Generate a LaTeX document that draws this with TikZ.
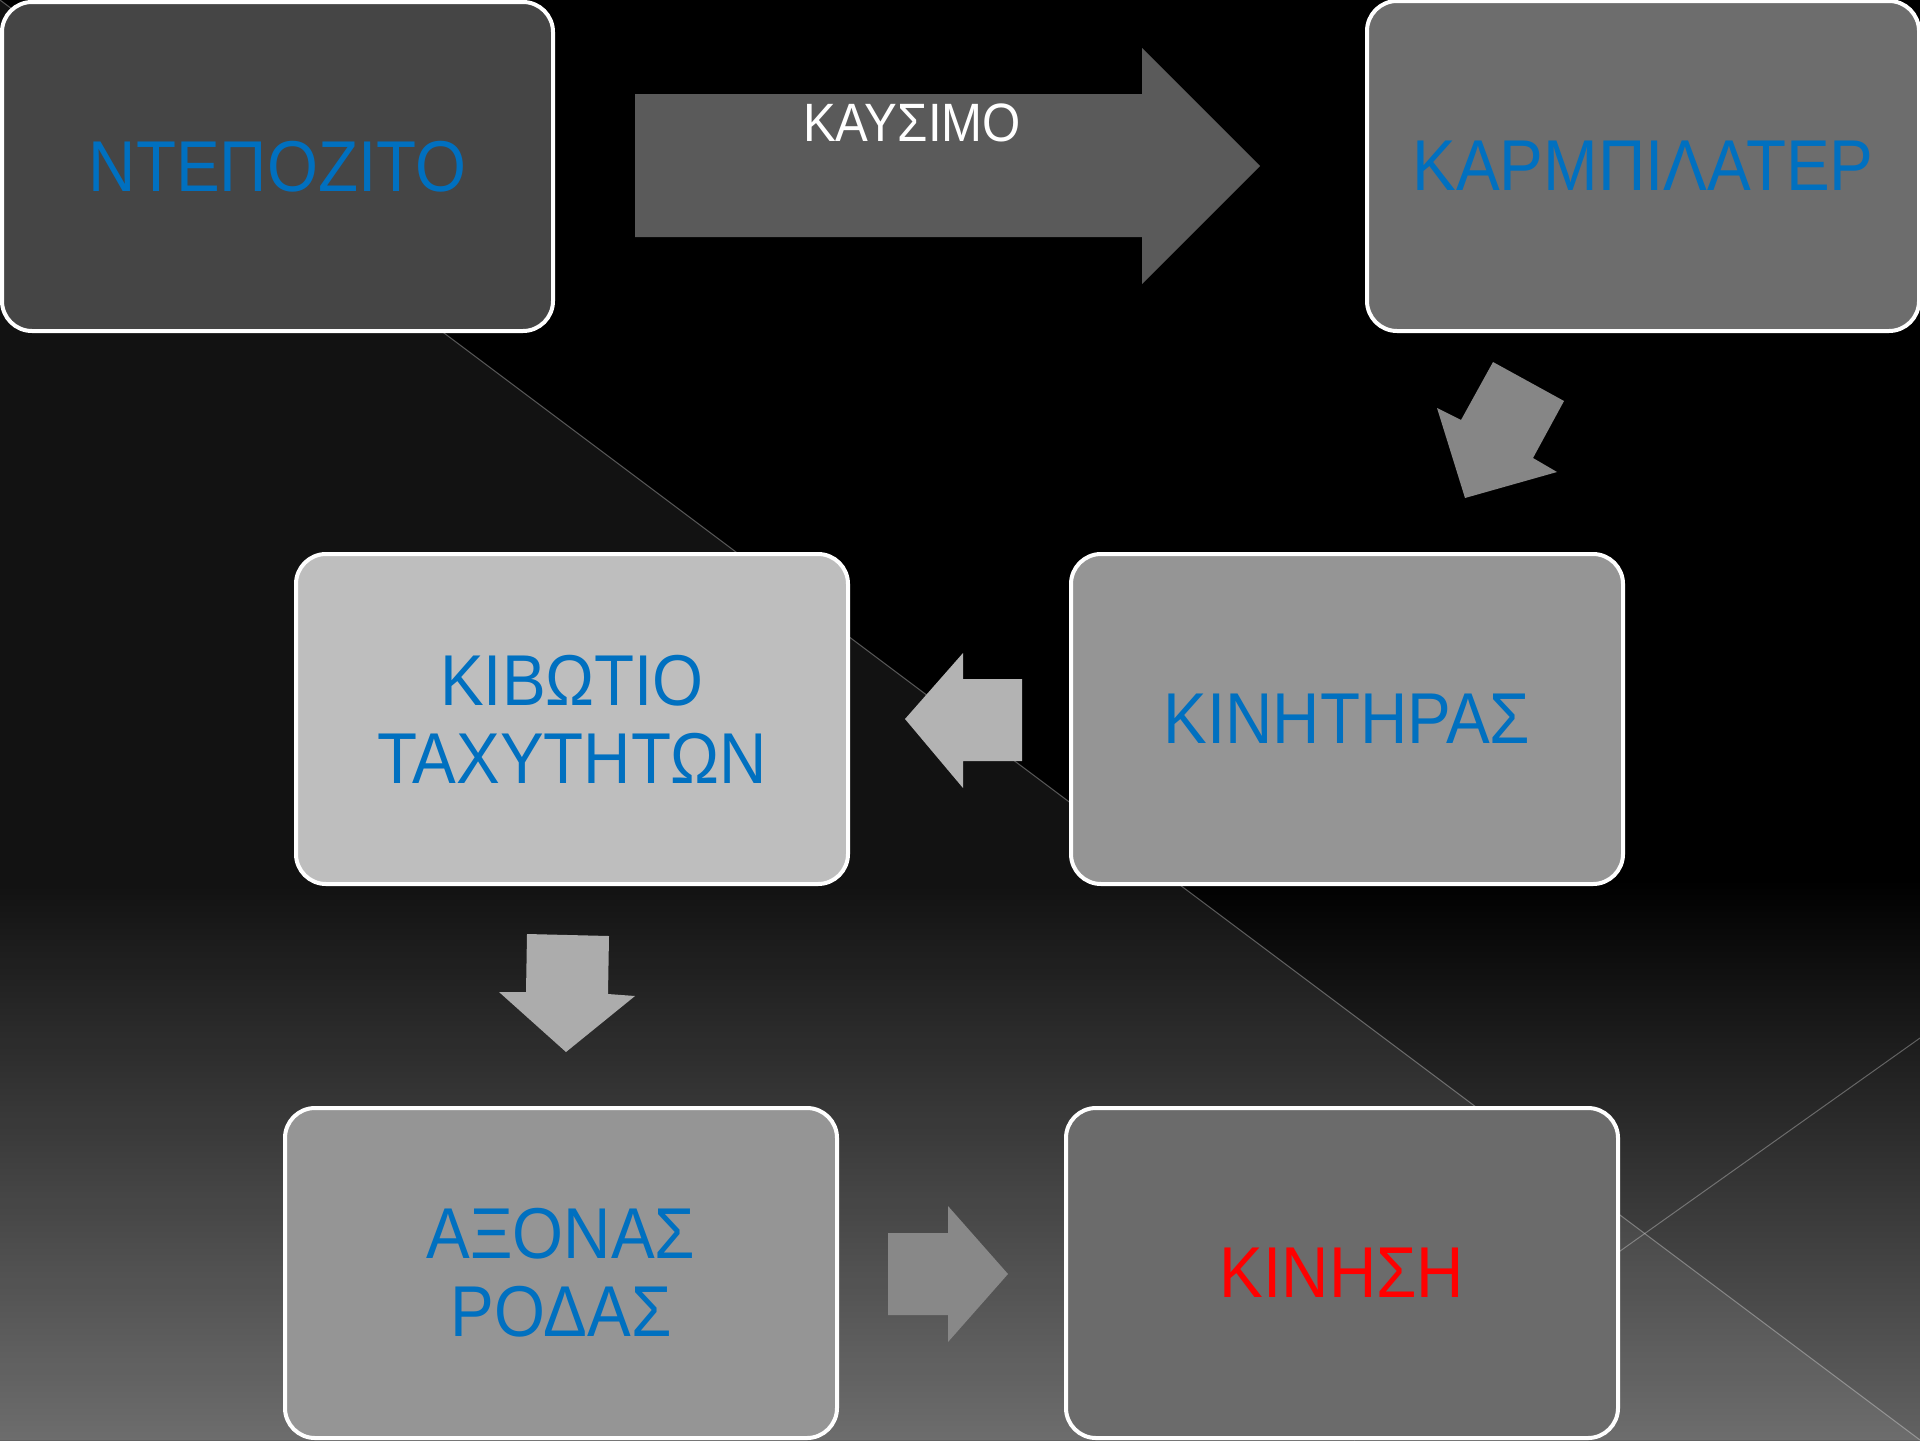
\documentclass[tikz,border=0pt]{standalone}
\usepackage{fontspec}
\newfontfamily\boxfont[FakeStretch=0.91]{Liberation Sans}
\usetikzlibrary{positioning}
\usepackage{xcolor}

\definecolor{boxblue}{HTML}{0070C0}
\definecolor{boxred}{HTML}{FF0000}
\definecolor{bgbottom}{HTML}{626262}
\definecolor{fillA}{HTML}{454545}
\definecolor{fillB}{HTML}{6D6D6D}
\definecolor{fillC}{HTML}{959595}
\definecolor{fillD}{HTML}{BEBEBE}
\definecolor{fillE}{HTML}{6B6B6B}

\tikzset{
	blockbox/.style={draw=white, line width=2pt, rounded corners=15pt, minimum width=276pt, minimum height=165pt, inner sep=0pt, align=center, text=boxblue, font=\boxfont\fontsize{36}{39}\selectfont},
	bgline/.style={white, opacity=0.3, line width=0.5pt}
}

\begin{document}
\begin{tikzpicture}[x=0.5pt,y=0.5pt,yscale=-1,xscale=1]
	\useasboundingbox (0,0) rectangle (1920,1440);
	
	%Background
	\fill[black] (0,0) rectangle (1920,1440);
	\shade[top color=black, bottom color=bgbottom] (0,880) rectangle (1920,1440);
	\fill[white, opacity=0.07] (0,0) -- (1920,1440) -- (0,1440) -- cycle;
	\draw[bgline] (0,0) -- (1920,1440);
	\draw[bgline] (1354,1440) -- (1920,1038);
	
	%Shape: Right Arrow (fuel)
	\fill[color={rgb,255:red,90;green,90;blue,90}] (635,94) -- (1142,94) -- (1142,48) -- (1260,166) -- (1142,284) -- (1142,237) -- (635,237) -- cycle;
	%Shape: Diagonal Arrow
	\fill[color={rgb,255:red,134;green,134;blue,134}] (1493,362) -- (1564,401) -- (1533,458) -- (1557,472) -- (1465,498) -- (1437,408) -- (1461,420) -- cycle;
	%Shape: Left Arrow
	\fill[color={rgb,255:red,179;green,179;blue,179}] (1022,679) -- (963,679) -- (963,653) -- (905,719) -- (963,788) -- (963,761) -- (1022,761) -- cycle;
	%Shape: Down Arrow
	\fill[color={rgb,255:red,172;green,172;blue,172}] (527,934) -- (609,936) -- (608,994) -- (635,996) -- (566,1052) -- (499,992) -- (526,992) -- cycle;
	%Shape: Right Arrow
	\fill[color={rgb,255:red,136;green,136;blue,136}] (888,1233) -- (948,1233) -- (948,1206) -- (1008,1274) -- (948,1342) -- (948,1315) -- (888,1315) -- cycle;
	
	% Boxes
	\node[blockbox, fill=fillA, minimum width=275.5pt, minimum height=164.5pt] (tank) at (277.5,166.5) {ΝΤΕΠΟΖΙΤΟ};
	\node[blockbox, fill=fillB] (carb) at (1643,166) {ΚΑΡΜΠΙΛΑΤΕΡ};
	\node[blockbox, fill=fillC] (engine) at (1347,719) {ΚΙΝΗΤΗΡΑΣ};
	\node[blockbox, fill=fillD] (gearbox) at (572,719) {ΚΙΒΩΤΙΟ\\ΤΑΧΥΤΗΤΩΝ};
	\node[blockbox, fill=fillC] (axle) at (561,1273) {ΑΞΟΝΑΣ\\ΡΟΔΑΣ};
	\node[blockbox, fill=fillE, text=boxred] (motion) at (1342,1273) {ΚΙΝΗΣΗ};
	
	% Text Node
	\node[text=white, font=\boxfont\fontsize{27}{30}\selectfont] (fuel) at (912,123) {ΚΑΥΣΙΜΟ};
	
\end{tikzpicture}
\end{document}
